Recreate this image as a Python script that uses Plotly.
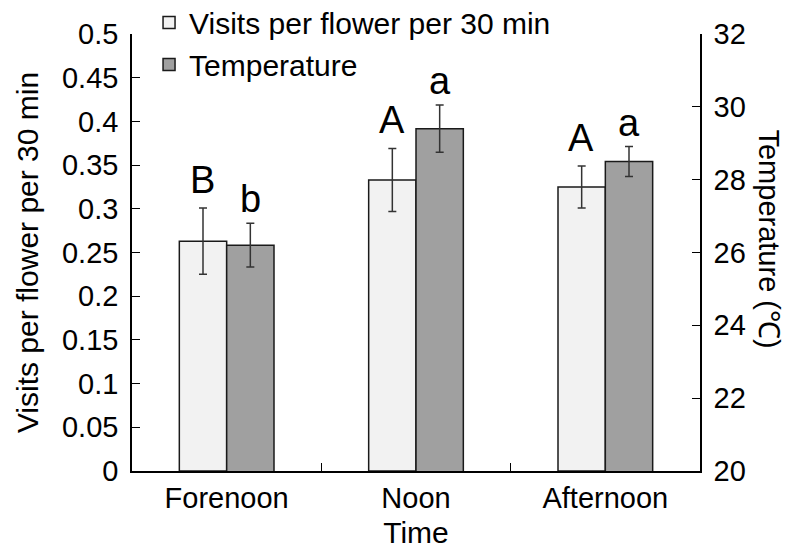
import plotly.graph_objects as go

categories = ["Forenoon", "Noon", "Afternoon"]
visits = [0.263, 0.333, 0.325]
visits_err = [0.038, 0.036, 0.024]
temperature = [26.2, 29.4, 28.5]
temperature_err = [0.6, 0.65, 0.41]
visit_letters = ["B", "A", "A"]
temp_letters = ["b", "a", "a"]
y1_ticks = [0, 0.05, 0.1, 0.15, 0.2, 0.25, 0.3, 0.35, 0.4, 0.45, 0.5]
y1_ticktext = ["0", "0.05", "0.1", "0.15", "0.2", "0.25", "0.3", "0.35", "0.4", "0.45", "0.5"]
y2_ticks = [20, 22, 24, 26, 28, 30, 32]

FONT = "Liberation Sans, Arial, sans-serif"
TICKFONT = dict(family=FONT, size=29, color="black")
TITLEFONT = dict(family=FONT, size=30, color="black")

fig = go.Figure()
fig.add_trace(go.Bar(
    x=categories, y=visits, name="Visits per flower per 30 min",
    marker=dict(color="#f2f2f2", line=dict(color="#1a1a1a", width=1.5)),
    error_y=dict(type="data", array=visits_err, color="#333333", thickness=1.5, width=4),
    offsetgroup="1", yaxis="y",
))
fig.add_trace(go.Bar(
    x=categories, y=temperature, name="Temperature",
    marker=dict(color="#a0a0a0", line=dict(color="#1a1a1a", width=1.5)),
    error_y=dict(type="data", array=temperature_err, color="#333333", thickness=1.5, width=4),
    offsetgroup="2", yaxis="y2",
))

annotations = []
for c, v, e, t in zip(categories, visits, visits_err, visit_letters):
    annotations.append(dict(x=c, y=v + e, xref="x", yref="y", text=t, showarrow=False,
                            xshift=-24, yshift=5, yanchor="bottom",
                            font=dict(family=FONT, size=38, color="black")))
for c, v, e, t in zip(categories, temperature, temperature_err, temp_letters):
    annotations.append(dict(x=c, y=v + e, xref="x", yref="y2", text=t, showarrow=False,
                            xshift=24, yshift=1, yanchor="bottom",
                            font=dict(family=FONT, size=38, color="black")))
annotations.append(dict(x=1.153, y=0.53, xref="paper", yref="paper", text="Temperature (℃)",
                        textangle=90, showarrow=False,
                        font=dict(family=FONT, size=29, color="black")))

fig.update_layout(
    width=790, height=549,
    margin=dict(l=132, r=90, t=34, b=78, autoexpand=False),
    paper_bgcolor="white", plot_bgcolor="white",
    font=dict(family=FONT, size=29, color="black"),
    barmode="group", bargap=0.5, bargroupgap=0,
    showlegend=True,
    legend=dict(x=0.03, y=1.086, xanchor="left", yanchor="top", bgcolor="rgba(0,0,0,0)",
                font=dict(family=FONT, size=30, color="black"), traceorder="normal", itemwidth=30),
    xaxis=dict(showline=True, linecolor="black", linewidth=1.5, ticks="inside",
               tickson="boundaries", ticklen=8, tickcolor="black", tickfont=TICKFONT,
               title=dict(text="Time", standoff=14, font=TITLEFONT), showgrid=False),
    yaxis=dict(range=[0, 0.5], tickvals=y1_ticks, ticktext=y1_ticktext, showline=True,
               linecolor="black", linewidth=1.5, ticks="inside", ticklen=8, tickcolor="black",
               showgrid=False, zeroline=False, ticklabelstandoff=6, tickfont=TICKFONT,
               title=dict(text="Visits per flower per 30 min", standoff=14, font=TITLEFONT)),
    yaxis2=dict(range=[20, 32], tickvals=y2_ticks, overlaying="y", side="right",
                showline=True, linecolor="black", linewidth=1.5, ticks="inside", ticklen=8,
                tickcolor="black", showgrid=False, zeroline=False, ticklabelstandoff=6,
                tickfont=TICKFONT),
    annotations=annotations,
)

fig.write_html("out.html")
